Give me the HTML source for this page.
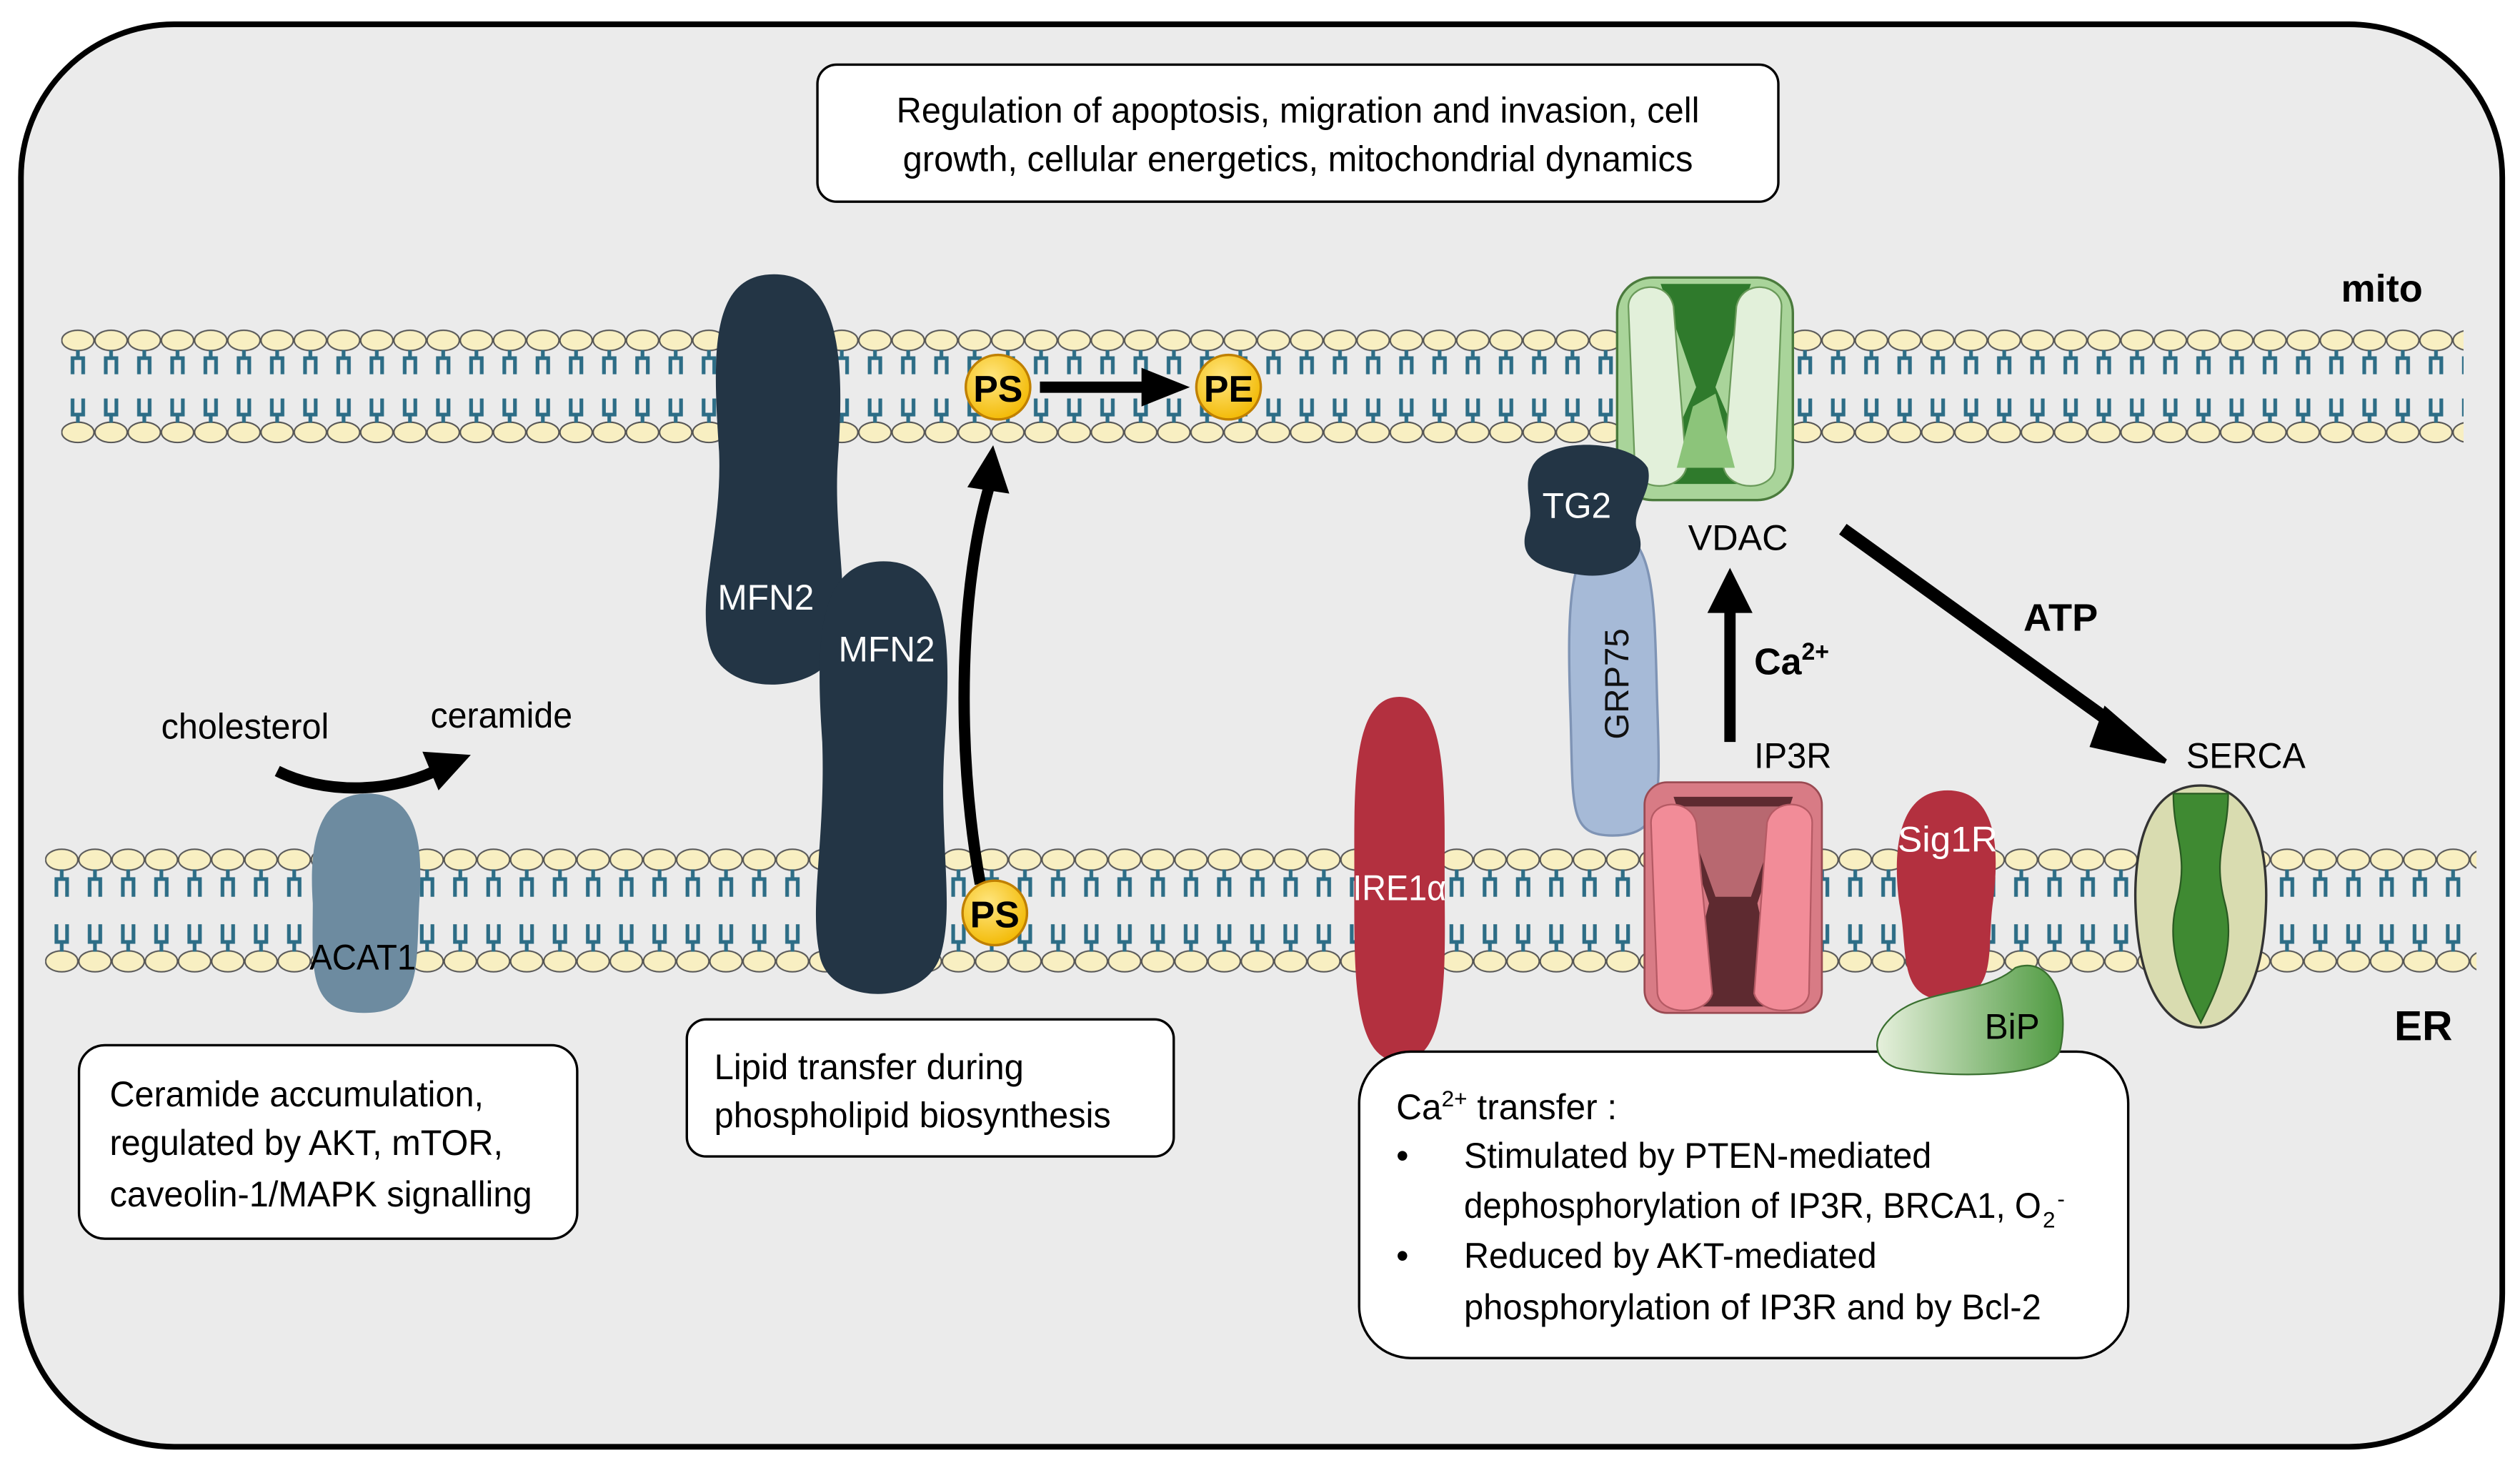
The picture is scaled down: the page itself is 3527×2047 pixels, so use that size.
<!DOCTYPE html>
<html><head><meta charset="utf-8"><style>
html,body{margin:0;padding:0;background:#fff;}
svg{display:block;}
text{font-family:"Liberation Sans",sans-serif;}
</style></head><body>
<svg width="3527" height="2047" viewBox="0 0 1563 907" xmlns="http://www.w3.org/2000/svg">
<defs>
<pattern id="mito" x="38" y="203" width="20.6" height="73" patternUnits="userSpaceOnUse">
<ellipse cx="10.3" cy="8" rx="10" ry="6.3" fill="#f8efc2" stroke="#555" stroke-width="0.9"/>
<ellipse cx="10.3" cy="65" rx="10" ry="6.3" fill="#f8efc2" stroke="#555" stroke-width="0.9"/>
<path d="M10.3 14V19M7 29V19H13.6V29M7 44V54H13.6V44M10.3 54V59" stroke="#2d6d86" stroke-width="2.3" fill="none"/>
</pattern>
<pattern id="er" x="28" y="525" width="20.6" height="79" patternUnits="userSpaceOnUse">
<ellipse cx="10.3" cy="8" rx="10" ry="6.5" fill="#f8efc2" stroke="#555" stroke-width="0.9"/>
<ellipse cx="10.3" cy="71" rx="10" ry="6.5" fill="#f8efc2" stroke="#555" stroke-width="0.9"/>
<path d="M10.3 14V20M7 31V20H13.6V31M7 48V59H13.6V48M10.3 59V65" stroke="#2d6d86" stroke-width="2.3" fill="none"/>
</pattern>
<marker id="ah" viewBox="0 0 10 10" refX="5" refY="5" markerWidth="3.2" markerHeight="3.2" orient="auto"><path d="M0 0L10 5L0 10z" fill="#000"/></marker>
<radialGradient id="ps" cx="0.4" cy="0.35" r="0.7"><stop offset="0" stop-color="#ffe680"/><stop offset="1" stop-color="#f2b800"/></radialGradient>
<linearGradient id="bip" x1="0" x2="1"><stop offset="0" stop-color="#e6f0dc"/><stop offset="1" stop-color="#4e9a40"/></linearGradient>
</defs>
<rect x="13" y="15" width="1539" height="882" rx="95" fill="#ebebeb" stroke="#000" stroke-width="3.5"/>
<rect x="507" y="40" width="596" height="85" rx="12" fill="#fff" stroke="#000" stroke-width="1.5"/>
<text x="805" y="76" font-size="22" text-anchor="middle" textLength="498" lengthAdjust="spacingAndGlyphs">Regulation of apoptosis, migration and invasion, cell</text>
<text x="805" y="106" font-size="22" text-anchor="middle" textLength="490" lengthAdjust="spacingAndGlyphs">growth, cellular energetics, mitochondrial dynamics</text>
<rect x="38" y="203" width="1490" height="73" fill="url(#mito)"/>
<rect x="28" y="525" width="1508" height="79" fill="url(#er)"/>
<text x="1452" y="187" font-size="24" font-weight="bold">mito</text>
<text x="1485" y="645" font-size="26" font-weight="bold">ER</text>
<!-- MFN2 -->
<path d="M480 170C520 170 524 220 520 280C516 330 528 370 520 400C512 430 450 435 440 400C432 370 448 330 446 280C442 220 440 170 480 170Z" fill="#233545"/>
<text x="475" y="378" font-size="22" fill="#fff" text-anchor="middle">MFN2</text>
<path d="M548 348C590 348 590 400 586 460C582 520 592 560 584 590C576 625 512 625 508 590C502 560 512 520 510 460C506 400 506 348 548 348Z" fill="#233545"/>
<text x="550" y="410" font-size="22" fill="#fff" text-anchor="middle">MFN2</text>
<!-- PS/PE -->
<path d="M608 548C592 460 596 360 614 300" stroke="#000" stroke-width="7" fill="none"/>
<path d="M600 302L616 276L626 306Z" fill="#000"/>
<line x1="645" y1="240" x2="712" y2="240" stroke="#000" stroke-width="7"/>
<path d="M708 228L738 240L708 252Z" fill="#000"/>
<circle cx="619" cy="240" r="20" fill="url(#ps)" stroke="#c08000" stroke-width="1.5"/>
<text x="619" y="249" font-size="23" font-weight="bold" text-anchor="middle">PS</text>
<circle cx="762" cy="240" r="20" fill="url(#ps)" stroke="#c08000" stroke-width="1.5"/>
<text x="762" y="249" font-size="23" font-weight="bold" text-anchor="middle">PE</text>
<circle cx="617" cy="566" r="20" fill="url(#ps)" stroke="#c08000" stroke-width="1.5"/>
<text x="617" y="575" font-size="23" font-weight="bold" text-anchor="middle">PS</text>
<!-- ACAT1 -->
<path d="M228 492C262 492 262 530 260 560C258 600 262 628 226 628C190 628 194 600 194 560C192 530 194 492 228 492Z" fill="#6d8ba0"/>
<text x="225" y="601" font-size="22" text-anchor="middle" textLength="66" lengthAdjust="spacingAndGlyphs">ACAT1</text>
<text x="100" y="458" font-size="22" textLength="104" lengthAdjust="spacingAndGlyphs">cholesterol</text>
<text x="267" y="451" font-size="22" textLength="88" lengthAdjust="spacingAndGlyphs">ceramide</text>
<path d="M172 478C200 492 240 492 270 478" stroke="#000" stroke-width="7" fill="none"/>
<path d="M262 466L292 468L272 490Z" fill="#000"/>
<!-- boxes -->
<rect x="49" y="648" width="309" height="120" rx="16" fill="#fff" stroke="#000" stroke-width="1.5"/>
<text x="68" y="686" font-size="22" textLength="232" lengthAdjust="spacingAndGlyphs">Ceramide accumulation,</text>
<text x="68" y="716" font-size="22" textLength="244" lengthAdjust="spacingAndGlyphs">regulated by AKT, mTOR,</text>
<text x="68" y="748" font-size="22" textLength="262" lengthAdjust="spacingAndGlyphs">caveolin-1/MAPK signalling</text>
<rect x="426" y="632" width="302" height="85" rx="12" fill="#fff" stroke="#000" stroke-width="1.5"/>
<text x="443" y="669" font-size="22" textLength="192" lengthAdjust="spacingAndGlyphs">Lipid transfer during</text>
<text x="443" y="699" font-size="22" textLength="246" lengthAdjust="spacingAndGlyphs">phospholipid biosynthesis</text>
<!-- IRE1a -->
<path d="M868 432C898 432 896 490 896 540C896 600 900 658 868 658C838 658 840 600 840 540C840 490 838 432 868 432Z" fill="#b3303f"/>
<text x="868" y="558" font-size="22" fill="#fff" text-anchor="middle" textLength="58" lengthAdjust="spacingAndGlyphs">IRE1α</text>
<!-- GRP75 -->
<path d="M1000 330C1028 330 1026 380 1028 440C1030 500 1030 518 1000 518C972 518 976 500 974 440C972 380 972 330 1000 330Z" fill="#a6bad7" stroke="#7f94b5" stroke-width="1.5"/>
<text transform="translate(1010 424) rotate(-90)" font-size="21" text-anchor="middle" fill="#111">GRP75</text>
<!-- VDAC -->
<rect x="1003" y="172" width="109" height="138" rx="22" fill="#a9d49a" stroke="#4a7a3c" stroke-width="1.5"/>
<path d="M1030 176H1086L1064 240L1090 300H1026L1052 240Z" fill="#2f7a2c"/>
<path d="M1010 190C1010 176 1034 172 1038 190L1046 290C1042 305 1016 305 1014 290Z" fill="#e2f0da" stroke="#6a9a5a"/>
<path d="M1105 190C1105 176 1081 172 1077 190L1069 290C1073 305 1099 305 1101 290Z" fill="#e2f0da" stroke="#6a9a5a"/>
<path d="M1050 252L1064 244L1076 290H1040Z" fill="#8cc47a"/>
<!-- TG2 -->
<path d="M950 290C958 270 1012 272 1022 290C1026 305 1010 318 1016 330C1024 350 1000 360 978 356C952 352 940 345 948 325C952 315 944 302 950 290Z" fill="#233545"/>
<text x="978" y="321" font-size="22" fill="#fff" text-anchor="middle">TG2</text>
<text x="1078" y="341" font-size="22" text-anchor="middle" textLength="62" lengthAdjust="spacingAndGlyphs">VDAC</text>
<!-- Ca arrow -->
<line x1="1073" y1="460" x2="1073" y2="378" stroke="#000" stroke-width="7"/>
<path d="M1059 380L1073 352L1087 380Z" fill="#000"/>
<text x="1088" y="418" font-size="23" font-weight="bold">Ca<tspan font-size="15" dy="-9">2+</tspan></text>
<!-- ATP arrow -->
<line x1="1143" y1="328" x2="1318" y2="454" stroke="#000" stroke-width="8"/>
<path d="M1306 440L1343 472L1298 462Z" fill="#000" stroke="#000" stroke-width="3"/>
<text x="1255" y="391" font-size="24" font-weight="bold">ATP</text>
<text x="1088" y="476" font-size="22" textLength="48" lengthAdjust="spacingAndGlyphs">IP3R</text>
<!-- IP3R -->
<rect x="1020" y="485" width="110" height="143" rx="14" fill="#d87b85" stroke="#9a4a52" stroke-width="1.2"/>
<path d="M1038 494H1112L1090 560L1104 624H1044L1060 560Z" fill="#5e2a30"/>
<path d="M1044 500H1106L1086 556H1064Z" fill="#b86870"/>
<path d="M1024 510C1024 496 1048 494 1052 510L1062 616C1058 630 1030 630 1028 616Z" fill="#f28c98" stroke="#b55a64"/>
<path d="M1124 510C1124 496 1100 494 1096 510L1088 616C1092 630 1120 630 1122 616Z" fill="#f28c98" stroke="#b55a64"/>
<!-- Sig1R -->
<path d="M1208 490C1240 490 1240 530 1236 560C1232 590 1240 618 1208 620C1176 620 1184 590 1178 560C1174 530 1176 490 1208 490Z" fill="#b3303f"/>
<text x="1208" y="528" font-size="22" fill="#fff" text-anchor="middle" textLength="62" lengthAdjust="spacingAndGlyphs">Sig1R</text>
<!-- SERCA -->
<text x="1356" y="476" font-size="22" textLength="74" lengthAdjust="spacingAndGlyphs">SERCA</text>
<path d="M1365 487C1400 487 1408 530 1405 570C1402 615 1385 637 1365 637C1345 637 1328 615 1325 570C1322 530 1330 487 1365 487Z" fill="#d9dcb0" stroke="#333" stroke-width="1.5"/>
<path d="M1348 492H1382C1382 520 1372 530 1380 560C1388 590 1372 620 1365 634C1358 620 1342 590 1350 560C1358 530 1348 520 1348 492Z" fill="#3f8a32" stroke="#2a5a22"/>
<!-- bottom box -->
<rect x="843" y="652" width="477" height="190" rx="32" fill="#fff" stroke="#000" stroke-width="1.5"/>
<!-- BiP -->
<path d="M1172 632C1190 612 1230 618 1250 600C1272 592 1284 620 1278 650C1274 670 1200 668 1176 662C1160 656 1162 642 1172 632Z" fill="url(#bip)" stroke="#3a7030" stroke-width="1"/>
<text x="1248" y="644" font-size="22" text-anchor="middle">BiP</text>
<text x="866" y="694" font-size="22">Ca<tspan font-size="14" dy="-8">2+</tspan><tspan dy="8"> transfer :</tspan></text>
<text x="866" y="724" font-size="22">•</text>
<text x="908" y="724" font-size="22" textLength="290" lengthAdjust="spacingAndGlyphs">Stimulated by PTEN-mediated</text>
<text x="908" y="755" font-size="22" textLength="358" lengthAdjust="spacingAndGlyphs">dephosphorylation of IP3R, BRCA1, O</text>
<text x="1267" y="761" font-size="14">2</text><text x="1276" y="748" font-size="14">-</text>
<text x="866" y="786" font-size="22">•</text>
<text x="908" y="786" font-size="22" textLength="256" lengthAdjust="spacingAndGlyphs">Reduced by AKT-mediated</text>
<text x="908" y="818" font-size="22" textLength="358" lengthAdjust="spacingAndGlyphs">phosphorylation of IP3R and by Bcl-2</text>
</svg>
</body></html>
